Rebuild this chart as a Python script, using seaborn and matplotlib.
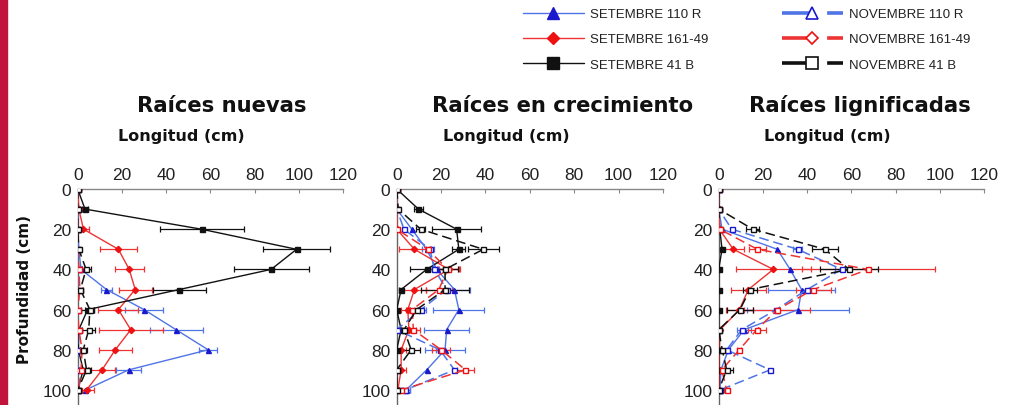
import numpy as np
import pandas as pd
import matplotlib
matplotlib.use("Agg")
import matplotlib.pyplot as plt
from matplotlib.lines import Line2D
from matplotlib.patches import Rectangle
import seaborn as sns

# ---------------- data ----------------
depth = [0, 10, 20, 30, 40, 50, 60, 70, 80, 90, 100]
panel_titles = ["Raíces nuevas", "Raíces en crecimiento", "Raíces lignificadas"]
x_ticks = [0, 20, 40, 60, 80, 100, 120]
y_ticks = [0, 20, 40, 60, 80, 100]
series_labels = ["SETEMBRE 110 R", "SETEMBRE 161-49", "SETEMBRE 41 B",
                 "NOVEMBRE 110 R", "NOVEMBRE 161-49", "NOVEMBRE 41 B"]

# Raíces nuevas
s110_n = [0, 0, 0, 0.5, 1.5, 13, 30, 44.5, 59, 23, 3.5]
s110_n_err = [0, 0, 0, 0, 0, 2.5, 8.5, 12, 4, 5.5, 0]
s161_n = [0, 0.5, 2.6, 18.4, 23.3, 26, 18.4, 24, 17, 11, 4]
s161_n_err = [0, 0, 2.5, 8.5, 6.5, 7.5, 9, 14.5, 7.5, 6, 3.5]
s41_n = [0, 3.3, 56, 99, 87.5, 46, 4.5, 0.5, 0.3, 2.5, 0]
s41_n_err = [0, 1.5, 19, 15, 17, 12, 3, 0, 0, 2, 0]
n110_n = [0, 0, 0, 0, 0.5, 0, 0, 0, 0, 0, 0]
n110_n_err = [0, 0, 0, 0, 0, 0, 0, 0, 0, 0, 0]
n161_n = [0, 0, 0, 0, 0.5, 1, 0, 0.5, 2, 1.5, 0.5]
n161_n_err = [0, 0, 0, 0, 1, 1, 0, 0, 1, 1, 0]
n41_n = [0, 0, 0, 0.5, 3.8, 1.2, 5.5, 5, 2.5, 4, 0]
n41_n_err = [0, 0, 0, 0, 2, 1, 2, 3, 1.5, 2, 0]

# Raíces en crecimiento
s110_c = [0, 0, 6.8, 13.5, 18, 26, 28, 22.5, 21.8, 13.5, 4.2]
s110_c_err = [0, 0, 0, 2, 0, 7, 11.5, 10, 9, 0, 2]
s161_c = [0, 0, 0, 8, 23.5, 8, 5, 5.5, 2, 2, 0.5]
s161_c_err = [0, 0, 0, 7, 5, 5, 3, 3, 2, 2, 0]
s41_c = [0, 9.8, 27, 28, 13.5, 2, 0, 2, 0, 0, 0]
s41_c_err = [0, 2, 11, 3, 7.5, 1, 0, 3, 0, 0, 0]
n110_c = [0, 0, 3.3, 15, 17, 22.5, 11, 0, 19.5, 26, 3.8]
n110_c_err = [0, 0, 0, 2, 2, 3, 2, 0, 2, 0, 2]
n161_c = [0, 0, 0, 14, 23, 19, 7, 7.5, 20, 31, 2]
n161_c_err = [0, 0, 0, 0, 5, 6, 3, 3, 4, 4, 1]
n41_c = [0, 0.7, 10.8, 39, 21.8, 21.8, 9, 3.3, 6.5, 0, 0]
n41_c_err = [0, 0, 2, 7, 6, 11, 3, 1.5, 4, 0, 0]

# Raíces lignificadas
s110_l = [0, 0, 1.5, 26.5, 32.3, 37.5, 36, 11.5, 4.4, 1, 0.6]
s110_l_err = [0, 0, 0, 0, 0, 15, 23, 3, 0, 0, 0]
s161_l = [0, 0, 0.3, 6.6, 24.7, 13.4, 9.4, 0.6, 0.3, 0.3, 0.3]
s161_l_err = [0, 0, 0, 5, 17, 8, 6, 0, 0, 0, 0]
s41_l = [0, 0, 0.5, 1.5, 0, 0, 0, 0, 0, 0, 0]
s41_l_err = [0, 0, 0, 0, 0, 0, 0, 0, 0, 0, 0]
n110_l = [0, 0, 5.9, 35.7, 55.6, 40, 26, 10.4, 3.6, 23.2, 0.6]
n110_l_err = [0, 0, 0, 2, 3, 0, 0, 0, 0, 0, 0]
n161_l = [0, 0, 0.5, 17.5, 67.7, 42.8, 26.5, 17.2, 9.3, 1.4, 3.6]
n161_l_err = [0, 0, 0, 4, 30, 8, 15, 4, 1, 0, 1]
n41_l = [0, 0, 15.4, 48, 59, 14.2, 9.6, 0, 1.6, 3.6, 0]
n41_l_err = [0, 0, 3, 6, 13, 3, 6, 0, 0, 3, 0]

panels = [
    [(s110_n, s110_n_err), (s161_n, s161_n_err), (s41_n, s41_n_err),
     (n110_n, n110_n_err), (n161_n, n161_n_err), (n41_n, n41_n_err)],
    [(s110_c, s110_c_err), (s161_c, s161_c_err), (s41_c, s41_c_err),
     (n110_c, n110_c_err), (n161_c, n161_c_err), (n41_c, n41_c_err)],
    [(s110_l, s110_l_err), (s161_l, s161_l_err), (s41_l, s41_l_err),
     (n110_l, n110_l_err), (n161_l, n161_l_err), (n41_l, n41_l_err)],
]

# ---------------- style ----------------
sns.set_style("white")
plt.rcParams["font.family"] = ["Liberation Sans", "DejaVu Sans"]
plt.rcParams["lines.scale_dashes"] = False

BLUE_L = "#4f74e6"
BLUE_M = "#1a1acc"
RED_L = "#ee3333"
RED_M = "#ee1111"
BLACK = "#111111"

styles = [
    dict(color=BLUE_L, mcolor=BLUE_M, marker="^", dashed=False, fill=True),
    dict(color=RED_L, mcolor=RED_M, marker="D", dashed=False, fill=True),
    dict(color=BLACK, mcolor=BLACK, marker="s", dashed=False, fill=True),
    dict(color=BLUE_L, mcolor=BLUE_M, marker="s", dashed=True, fill=False),
    dict(color=RED_L, mcolor=RED_M, marker="s", dashed=True, fill=False),
    dict(color=BLACK, mcolor=BLACK, marker="s", dashed=True, fill=False),
]

W, H = 1009, 406
fig = plt.figure(figsize=(W / 100, H / 100), dpi=100)

# left crimson band
fig.patches.append(Rectangle((0, 0), 7 / W, 1, transform=fig.transFigure,
                             color="#c0143c", zorder=0))

axes_px = [(77.7, 343.0), (396.7, 663.0), (718.7, 984.0)]
y0_px = 190.0
px_per_cm = 2.01
ybottom = (H - y0_px) / px_per_cm

for pi, (x_left, x_right) in enumerate(axes_px):
    ax = fig.add_axes([x_left / W, 0, (x_right - x_left) / W, (H - y0_px) / H])
    ax.set_facecolor("none")
    for si, (vals, err) in enumerate(panels[pi]):
        st = styles[si]
        df = pd.DataFrame({"x": vals, "y": depth})
        e = np.array(err, dtype=float)
        m = e > 0
        if m.any():
            ax.errorbar(np.array(vals)[m], np.array(depth)[m], xerr=e[m], fmt="none",
                        ecolor=st["color"], elinewidth=0.9, capsize=2.2, capthick=0.9,
                        zorder=2)
        kw = dict(color=st["color"], linewidth=1.0, marker=st["marker"],
                  markersize=3.6 if st["marker"] != "D" else 3.2,
                  markeredgewidth=1.0, markeredgecolor=st["mcolor"],
                  markerfacecolor=st["mcolor"] if st["fill"] else "white")
        if st["dashed"]:
            kw["linestyle"] = (0, (7, 3.5))
            kw["linewidth"] = 1.1
        sns.lineplot(data=df, x="x", y="y", orient="y", sort=False, estimator=None,
                     ax=ax, zorder=3, legend=False, **kw)

    ax.set_xlim(0, 120)
    ax.set_ylim(ybottom, 0)
    ax.set_xticks(x_ticks)
    ax.set_yticks(y_ticks)
    ax.xaxis.tick_top()
    ax.tick_params(axis="x", direction="in", length=3, width=0.8, color="#888888",
                   pad=5, labelsize=12.5, labelcolor="#222222")
    ax.tick_params(axis="y", length=0, pad=4.5, labelsize=12.5, labelcolor="#222222")
    ax.set_xlabel("")
    ax.set_ylabel("")
    for s in ["right", "bottom"]:
        ax.spines[s].set_visible(False)
    ax.spines["top"].set_color("#888888")
    ax.spines["left"].set_color("#666666")
    ax.spines["top"].set_linewidth(1.0)
    ax.spines["left"].set_linewidth(1.0)


def ftxt(xp, yp, s, **kw):
    fig.text(xp / W, 1 - yp / H, s, ha="center", va="center", **kw)


title_pos = [(222, 106), (563, 106), (860, 106)]
long_pos = [(181, 137), (506, 137), (827, 137)]
for t, (tx, ty), (lx, ly) in zip(panel_titles, title_pos, long_pos):
    ftxt(tx, ty, t, fontsize=15.2, fontweight="bold", family="DejaVu Sans", color="#111111")
    ftxt(lx, ly, "Longitud (cm)", fontsize=11.5, fontweight="bold", family="DejaVu Sans",
         color="#111111")
ftxt(25, 290, "Profundidad (cm)", fontsize=11, fontweight="bold", family="DejaVu Sans",
     rotation=90, color="#111111")

# ---------------- legends ----------------
set_handles = []
for st in styles[:3]:
    set_handles.append(Line2D([], [], color=st["color"], linewidth=1.0, marker=st["marker"],
                              markersize=8 if st["marker"] != "D" else 6.5,
                              markerfacecolor=st["mcolor"], markeredgecolor=st["mcolor"]))
nov_marks = ["^", "D", "s"]
nov_handles = []
for st, mk in zip(styles[3:], nov_marks):
    nov_handles.append(Line2D([], [], color=st["color"], linewidth=2.6,
                              linestyle=(0, (20.5, 12.0, 11.5, 60)), marker=mk,
                              markersize=8 if mk != "D" else 6.5,
                              markerfacecolor="white", markeredgecolor=st["mcolor"],
                              markeredgewidth=1.2))

common = dict(frameon=False, fontsize=9.5, handlelength=4.6, handletextpad=0.5,
              labelspacing=0.98, borderpad=0, borderaxespad=0, numpoints=1,
              loc="upper left")
lg1 = fig.legend(set_handles, series_labels[:3], bbox_to_anchor=(523 / W, 1 - 9 / H), **common)
lg2 = fig.legend(nov_handles, series_labels[3:], bbox_to_anchor=(782 / W, 1 - 9 / H), **common)
for lg in (lg1, lg2):
    for t in lg.get_texts():
        t.set_color("#222222")

fig.savefig("out.png", dpi=100)
